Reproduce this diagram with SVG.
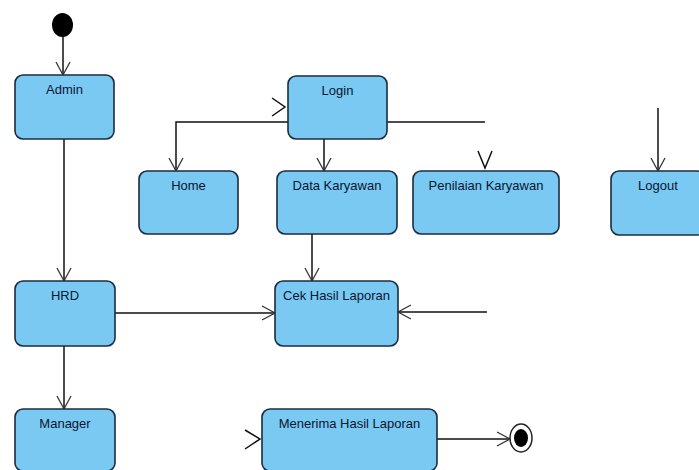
<svg xmlns="http://www.w3.org/2000/svg" width="699" height="470" viewBox="0 0 699 470">
<style>
.n rect{fill:#79C9F2;stroke:#1c2b3f;stroke-width:1.6}
.n text{font-family:"Liberation Sans",Arial,sans-serif;font-size:13px;fill:#0a1530;text-anchor:middle}
.c path,.c polyline{fill:none;stroke:#111;stroke-width:1.5}
.h{fill:none;stroke:#333;stroke-width:1.3}
</style>
<defs>
<marker id="a" markerUnits="userSpaceOnUse" markerWidth="16" markerHeight="18" viewBox="0 0 16 18" refX="14" refY="9" orient="auto">
<path d="M1,2 L14,9 L1,16" fill="none" stroke="#333" stroke-width="1.3"/>
</marker>
</defs>
<rect width="699" height="470" fill="#fff"/>
<g class="c" id="connectors">
<path d="M63,37 V75" marker-end="url(#a)"/>
<path d="M64,139 V281" marker-end="url(#a)"/>
<path d="M64,346 V409" marker-end="url(#a)"/>
<path d="M115,313 H275" marker-end="url(#a)"/>
<path d="M288,122 H176 V171" marker-end="url(#a)"/>
<polyline class="h" points="272,98 285,107 272,116"/>
<path d="M324,139 V171" marker-end="url(#a)"/>
<path d="M387,122 H485"/>
<polyline class="h" points="478,151 485,168 492,151"/>
<path d="M658,108 V171" marker-end="url(#a)"/>
<path d="M312,234 V281" marker-end="url(#a)"/>
<path d="M487,312 H398" marker-end="url(#a)"/>
<polyline class="h" points="245,430 260,439 245,449"/>
<path d="M437,439 H510" marker-end="url(#a)"/>
</g>
<g id="start"><ellipse cx="62.5" cy="25" rx="10.5" ry="12" fill="#000"/></g>
<g id="end"><ellipse cx="521" cy="438" rx="11" ry="14" fill="#fff" stroke="#222" stroke-width="1.5"/><ellipse cx="521" cy="438" rx="7" ry="9" fill="#000"/></g>
<g class="n" id="admin"><rect x="15" y="75" width="99" height="64" rx="8"/><text x="64.5" y="94">Admin</text></g>
<g class="n" id="login"><rect x="288" y="76" width="99" height="63" rx="8"/><text x="337.5" y="95">Login</text></g>
<g class="n" id="home"><rect x="139" y="171" width="99" height="63" rx="8"/><text x="188.5" y="190">Home</text></g>
<g class="n" id="data-karyawan"><rect x="277" y="171" width="120" height="63" rx="8"/><text x="337" y="190">Data Karyawan</text></g>
<g class="n" id="penilaian-karyawan"><rect x="413" y="171" width="146" height="63" rx="8"/><text x="486" y="190">Penilaian Karyawan</text></g>
<g class="n" id="logout"><rect x="611" y="171" width="94" height="64" rx="8"/><text x="658" y="190">Logout</text></g>
<g class="n" id="hrd"><rect x="15" y="281" width="100" height="65" rx="8"/><text x="65" y="300">HRD</text></g>
<g class="n" id="cek-hasil-laporan"><rect x="275" y="281" width="123" height="65" rx="8"/><text x="336.5" y="300">Cek Hasil Laporan</text></g>
<g class="n" id="manager"><rect x="15" y="409" width="100" height="62" rx="8"/><text x="65" y="428">Manager</text></g>
<g class="n" id="menerima-hasil-laporan"><rect x="262" y="409" width="175" height="62" rx="8"/><text x="349.5" y="428">Menerima Hasil Laporan</text></g>
</svg>
